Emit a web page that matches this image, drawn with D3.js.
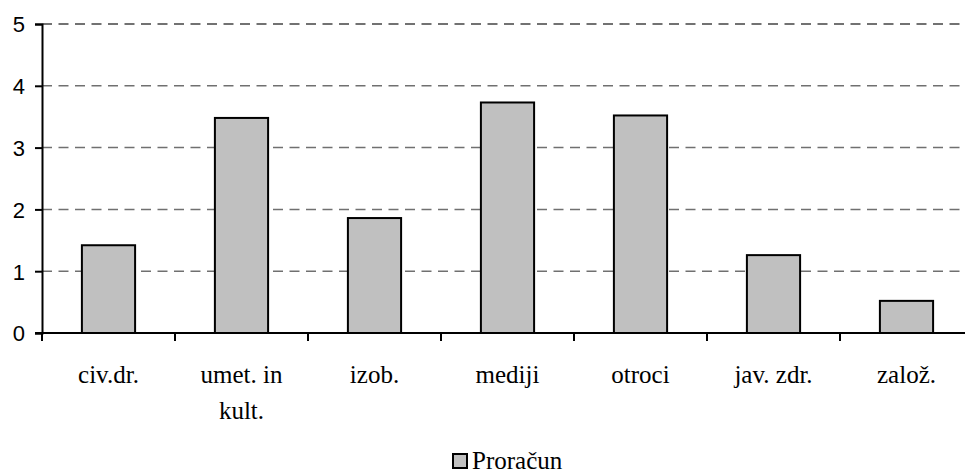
<!DOCTYPE html>
<html>
<head>
  <meta charset="utf-8">
  <script src="https://d3js.org/d3.v7.min.js"></script>
</head>
<body style="margin:0;background:#fff">
<script>
  // data
  var categories = ["civ.dr.", "umet. in kult.", "izob.", "mediji", "otroci", "jav. zdr.", "založ."];
  var labelLines = [["civ.dr."], ["umet. in", "kult."], ["izob."], ["mediji"], ["otroci"], ["jav. zdr."], ["založ."]];
  var proracun = [1.42, 3.48, 1.86, 3.73, 3.52, 1.26, 0.52];
  var yTicks = [0, 1, 2, 3, 4, 5];
  var seriesName = "Proračun";

  function drawChart() {
    "use strict";
    var width = 965, height = 475;
    var left = 42, plotTop = 24, bottom = 333;
    var band = 133;

    var svg = d3.select("body").append("svg")
        .attr("width", width)
        .attr("height", height);

    var x = d3.scaleBand()
        .domain(categories)
        .range([left, left + band * categories.length])
        .paddingInner(0.6)
        .paddingOuter(0.3);

    var y = d3.scaleLinear()
        .domain([0, 5])
        .range([bottom, plotTop]);

    // gridlines
    svg.append("g").selectAll("line")
        .data(yTicks.filter(function(d) { return d > 0; }))
        .enter().append("line")
        .attr("x1", left)
        .attr("x2", width)
        .attr("y1", function(d) { return y(d); })
        .attr("y2", function(d) { return y(d); })
        .attr("stroke", function(d) { return d == 5 ? "#444" : "#707070"; })
        .attr("stroke-width", 1.5)
        .attr("stroke-dasharray", "10,6.5");

    // bars
    svg.append("g").selectAll("rect")
        .data(proracun)
        .enter().append("rect")
        .attr("x", function(d, i) { return x(categories[i]); })
        .attr("width", x.bandwidth())
        .attr("y", function(d) { return y(d); })
        .attr("height", function(d) { return y(0) - y(d); })
        .attr("fill", "#C0C0C0")
        .attr("stroke", "#000")
        .attr("stroke-width", 2);

    // y axis
    var yAxis = d3.axisLeft(y).tickValues(yTicks).tickSize(7).tickPadding(10).tickFormat(d3.format("d"));
    var gy = svg.append("g")
        .attr("transform", "translate(" + left + ",0)")
        .call(yAxis)
        .attr("font-family", "Liberation Sans")
        .attr("font-size", 22);
    gy.select(".domain").attr("stroke", "#000").attr("stroke-width", 2);
    gy.selectAll(".tick line").attr("stroke", "#000").attr("stroke-width", 2);
    gy.selectAll(".tick text")
        .attr("fill", "#000")
        .attr("dy", "0.36em");

    // x axis line and boundary ticks
    svg.append("line")
        .attr("x1", left - 7).attr("x2", width)
        .attr("y1", bottom).attr("y2", bottom)
        .attr("stroke", "#000").attr("stroke-width", 2);

    var bounds = d3.range(categories.length + 1).map(function(i) { return left + i * band; });
    svg.append("g").selectAll("line")
        .data(bounds)
        .enter().append("line")
        .attr("x1", function(d) { return d; })
        .attr("x2", function(d) { return d; })
        .attr("y1", bottom)
        .attr("y2", bottom + 8)
        .attr("stroke", "#000")
        .attr("stroke-width", 2);

    // x labels
    var xl = svg.append("g")
        .attr("font-family", "Liberation Serif")
        .attr("font-size", 25)
        .selectAll("text")
        .data(categories)
        .enter().append("text")
        .attr("text-anchor", "middle");
    xl.each(function(d, i) {
      var t = d3.select(this);
      labelLines[i].forEach(function(line, j) {
        t.append("tspan")
            .attr("x", x(d) + x.bandwidth() / 2)
            .attr("y", 383 + j * 36)
            .text(line);
      });
    });

    // legend
    var legend = svg.append("g");
    legend.append("rect")
        .attr("x", 453).attr("y", 454)
        .attr("width", 14).attr("height", 14)
        .attr("fill", "#C0C0C0")
        .attr("stroke", "#000")
        .attr("stroke-width", 2);
    legend.append("text")
        .attr("x", 472)
        .attr("y", 469)
        .attr("font-family", "Liberation Serif")
        .attr("font-size", 25)
        .text(seriesName);
  }

  drawChart();
</script>
</body>
</html>
